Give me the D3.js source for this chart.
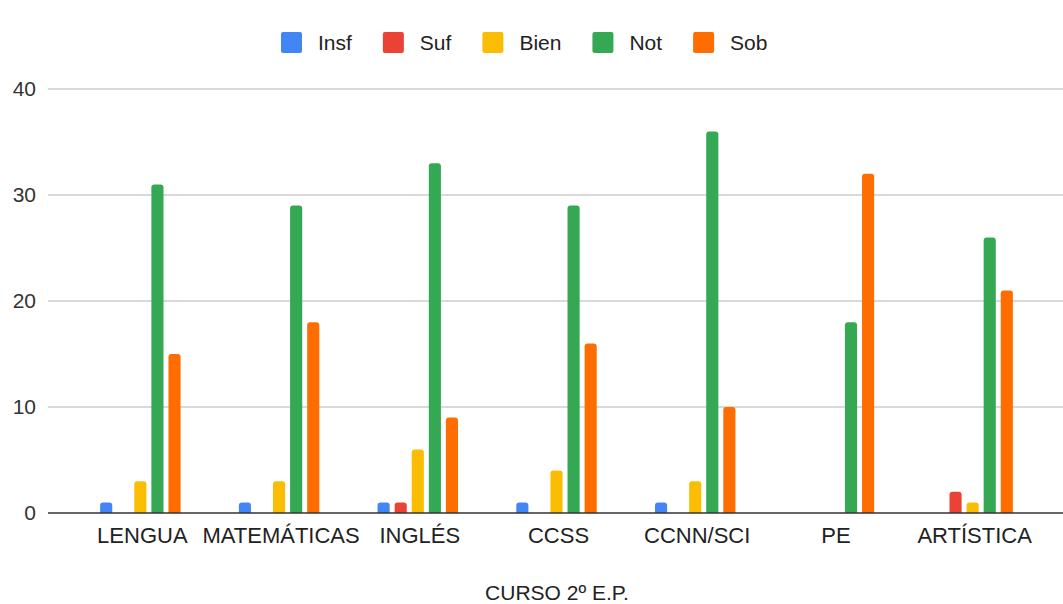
<!DOCTYPE html>
<html>
<head>
<meta charset="utf-8">
<script src="https://cdn.jsdelivr.net/npm/d3@7"></script>
<style>
  body { margin: 0; background: #fff; }
  svg { display: block; font-family: "Liberation Sans", Arial, sans-serif; }
</style>
</head>
<body>
<div id="chart"></div>
<script>
const categories = ["LENGUA", "MATEMÁTICAS", "INGLÉS", "CCSS", "CCNN/SCI", "PE", "ARTÍSTICA"];
const seriesNames = ["Insf", "Suf", "Bien", "Not", "Sob"];
const insf = [1, 1, 1, 1, 1, 0, 0];
const suf = [0, 0, 1, 0, 0, 0, 2];
const bien = [3, 3, 6, 4, 3, 0, 1];
const not = [31, 29, 33, 29, 36, 18, 26];
const sob = [15, 18, 9, 16, 10, 32, 21];
const yTicks = [0, 10, 20, 30, 40];
const xTitle = "CURSO 2º E.P.";

const colors = ["#4285f4", "#ea4335", "#fbbc04", "#34a853", "#ff6d01"];
const allValues = [insf, suf, bien, not, sob];

const W = 1063, H = 604;
const plot = { left: 48, right: 1063, top: 89, bottom: 513 };

const svg = d3.select("#chart").append("svg")
    .attr("width", W)
    .attr("height", H);

const y = d3.scaleLinear()
    .domain([0, 40])
    .range([plot.bottom, plot.top]);

const x0 = d3.scaleBand()
    .domain(categories)
    .range([71, 1042])
    .paddingInner(0.42)
    .paddingOuter(0.21);

const x1 = d3.scaleBand()
    .domain(seriesNames)
    .range([0, x0.bandwidth()])
    .paddingInner(0.29)
    .paddingOuter(0);

// gridlines
svg.append("g")
    .selectAll("line")
    .data(yTicks.filter(t => t !== 0))
    .join("line")
    .attr("x1", plot.left)
    .attr("x2", plot.right)
    .attr("y1", d => y(d))
    .attr("y2", d => y(d))
    .attr("stroke", "#cccccc")
    .attr("stroke-width", 1.3);

// y labels
svg.append("g")
    .selectAll("text")
    .data(yTicks)
    .join("text")
    .attr("x", 36)
    .attr("y", d => y(d) + 7)
    .attr("text-anchor", "end")
    .style("font-size", "21px")
    .style("fill", "#333")
    .text(d => d);

// bars
const rows = categories.map((c, i) => ({
    cat: c,
    vals: seriesNames.map((s, j) => ({ s, j, v: allValues[j][i] }))
}));

function topRounded(xp, yp, w, h, r) {
    r = Math.min(r, h, w / 2);
    return `M${xp},${yp + h}V${yp + r}Q${xp},${yp} ${xp + r},${yp}H${xp + w - r}Q${xp + w},${yp} ${xp + w},${yp + r}V${yp + h}Z`;
}

const groups = svg.append("g")
    .selectAll("g")
    .data(rows)
    .join("g")
    .attr("transform", d => `translate(${x0(d.cat)},0)`);

groups.selectAll("path")
    .data(d => d.vals.filter(v => v.v > 0))
    .join("path")
    .attr("fill", d => colors[d.j])
    .attr("d", d => topRounded(x1(d.s), y(d.v), x1.bandwidth(), y(0) - y(d.v), 3));

// baseline
svg.append("line")
    .attr("x1", plot.left)
    .attr("x2", plot.right)
    .attr("y1", y(0))
    .attr("y2", y(0))
    .attr("stroke", "#333")
    .attr("stroke-width", 1.5);

// x labels
svg.append("g")
    .selectAll("text")
    .data(categories)
    .join("text")
    .attr("x", d => x0(d) + x0.bandwidth() / 2 + 2)
    .attr("y", 543)
    .attr("text-anchor", "middle")
    .style("font-size", "22px")
    .style("fill", "#222")
    .text(d => d);

svg.append("text")
    .attr("x", 557)
    .attr("y", 600)
    .attr("text-anchor", "middle")
    .style("font-size", "21px")
    .style("fill", "#222")
    .text(xTitle);

// legend
const legend = svg.append("g");
let lx = 281;
seriesNames.forEach((s, i) => {
    legend.append("rect")
        .attr("x", lx)
        .attr("y", 32)
        .attr("width", 21)
        .attr("height", 21)
        .attr("rx", 2)
        .attr("fill", colors[i]);
    const t = legend.append("text")
        .attr("x", lx + 37)
        .attr("y", 50)
        .style("font-size", "21px")
        .style("fill", "#222")
        .text(s);
    lx += 37 + t.node().getComputedTextLength() + 31;
});
</script>
</body>
</html>
